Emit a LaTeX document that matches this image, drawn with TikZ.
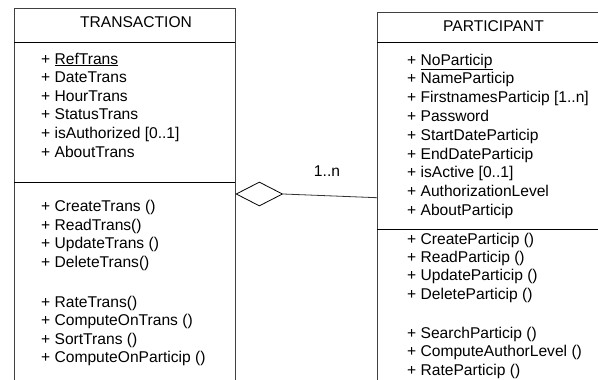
\documentclass[tikz,border=0pt]{standalone}
\usepackage{fontspec}
\setmainfont{Liberation Sans}
\usetikzlibrary{shapes.geometric}
\begin{document}
\begin{tikzpicture}[x=1pt,y=-1pt,
  txt/.style={anchor=base west,inner sep=0pt,font=\fontsize{15.6}{18}\selectfont},
  ttl/.style={anchor=base,inner sep=0pt,font=\fontsize{15.6}{18}\selectfont},
  edge/.style={draw=black!75,line width=0.8pt},
  sep/.style={draw=black,line width=0.8pt}]
\useasboundingbox (0,0) rectangle (598,380);
% left class box (open bottom)
\draw[edge] (14,380) -- (14,8) -- (235,8) -- (235,380);
\draw[sep] (14,42) -- (235,42);
\draw[sep] (14,182) -- (235,182);
\node[ttl] (tT) at (136,27.5) {TRANSACTION};
\foreach \t [count=\i] in {{\underline{RefTrans}},DateTrans,HourTrans,StatusTrans,{isAuthorized [0..1]},AboutTrans}
  \node[txt] (ta\i) at (41,{64+(\i-1)*18.6}) {+ \t};
\foreach \t [count=\i] in {{CreateTrans ()},{ReadTrans()},{UpdateTrans ()},{DeleteTrans()}}
  \node[txt] (tm\i) at (41,{211.5+(\i-1)*18.5}) {+ \t};
\foreach \t [count=\i] in {{RateTrans()},{ComputeOnTrans ()},{SortTrans ()},{ComputeOnParticip ()}}
  \node[txt] (tn\i) at (41,{307+(\i-1)*18.6}) {+ \t};
% right class box (cut by the right edge, open bottom)
\draw[edge] (610,12) -- (377,12) -- (377,380);
\draw[sep] (377,42) -- (610,42);
\draw[sep] (377,229) -- (610,229);
\node[ttl] (pT) at (493.5,31.5) {PARTICIPANT};
\foreach \t [count=\i] in {{\underline{NoParticip}},NameParticip,{FirstnamesParticip [1..n]},Password,StartDateParticip,EndDateParticip,{isActive [0..1]},AuthorizationLevel,AboutParticip}
  \node[txt] (pa\i) at (407,{65+(\i-1)*18.8}) {+ \t};
\foreach \t [count=\i] in {{CreateParticip ()},{ReadParticip ()},{UpdateParticip ()},{DeleteParticip ()}}
  \node[txt] (pm\i) at (407,{244+(\i-1)*18.4}) {+ \t};
\foreach \t [count=\i] in {{SearchParticip ()},{ComputeAuthorLevel ()},{RateParticip ()}}
  \node[txt] (pn\i) at (407,{338+(\i-1)*18.8}) {+ \t};
% aggregation
\node[diamond,draw=black,line width=0.8pt,inner sep=0pt,minimum width=46.5pt,minimum height=24pt,anchor=west] (dia) at (235.7,194) {};
\coordinate (pend) at (377,197.7);
\draw[black!80,line width=0.8pt] (dia.east) -- (pend);
\node[ttl] (mult) at (327,176) {1..n};
\end{tikzpicture}
\end{document}
